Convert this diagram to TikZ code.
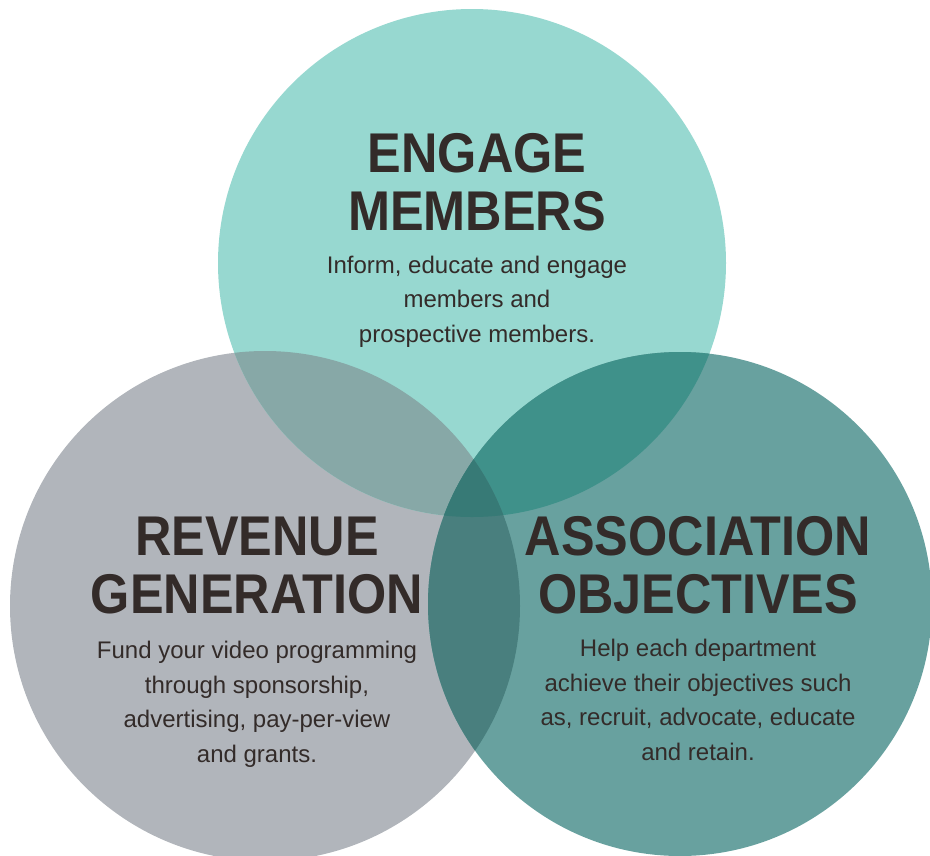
\documentclass[tikz,border=0pt]{standalone}
\usepackage{fontspec}
\setmainfont{Liberation Sans}
\newfontfamily\headfont{Liberation Sans}[FakeStretch=0.9]
\definecolor{revgray}{HTML}{B1B5BB}
\definecolor{engteal}{HTML}{97D8D0}
\definecolor{assteal}{HTML}{68A19F}
\definecolor{engrev}{HTML}{87A8A7}
\definecolor{engass}{HTML}{3F918A}
\definecolor{revass}{HTML}{497F7E}
\definecolor{allthree}{HTML}{377A76}
\definecolor{inkdark}{HTML}{332B29}

\begin{document}
\begin{tikzpicture}[x=1pt, y=-1pt,
        headline/.style={font=\fontsize{56}{57.5}\selectfont\headfont\bfseries, text=inkdark, align=center, inner sep=0pt, anchor=base},
        blurb/.style={font=\fontsize{24}{34.5}\selectfont, text=inkdark, align=center, inner sep=0pt, anchor=base}
    ]
    \useasboundingbox (0,0) rectangle (930,855);

    % the three circles
    \def\engage{(472,263) circle (254)}
    \def\revenue{(265,606) circle (255)}
    \def\assoc{(680,604) circle (252)}
    \fill[revgray] \revenue;
    \fill[engteal] \engage;
    \fill[assteal] \assoc;

    % overlaps
    \begin{scope}
        \clip \engage;
        \fill[engrev] \revenue;
        \fill[engass] \assoc;
    \end{scope}
    \begin{scope}
        \clip \revenue;
        \fill[revass] \assoc;
        \clip \engage;
        \fill[allthree] \assoc;
    \end{scope}

    % texts (base = last line)
    \node[headline] (engtitle) at (477,230) {ENGAGE\\MEMBERS};
    \node[blurb] (engtext) at (477,342) {Inform, educate and engage\\members and\\prospective members.};

    \node[headline] (revtitle) at (257,613) {REVENUE\\GENERATION};
    \node[blurb] (revtext) at (257,762) {Fund your video programming\\through sponsorship,\\advertising, pay-per-view\\and grants.};

    \node[headline] (asstitle) at (698,613) {ASSOCIATION\\OBJECTIVES};
    \node[blurb] (asstext) at (698,760) {Help each department\\achieve their objectives such\\as, recruit, advocate, educate\\and retain.};
\end{tikzpicture}
\end{document}
